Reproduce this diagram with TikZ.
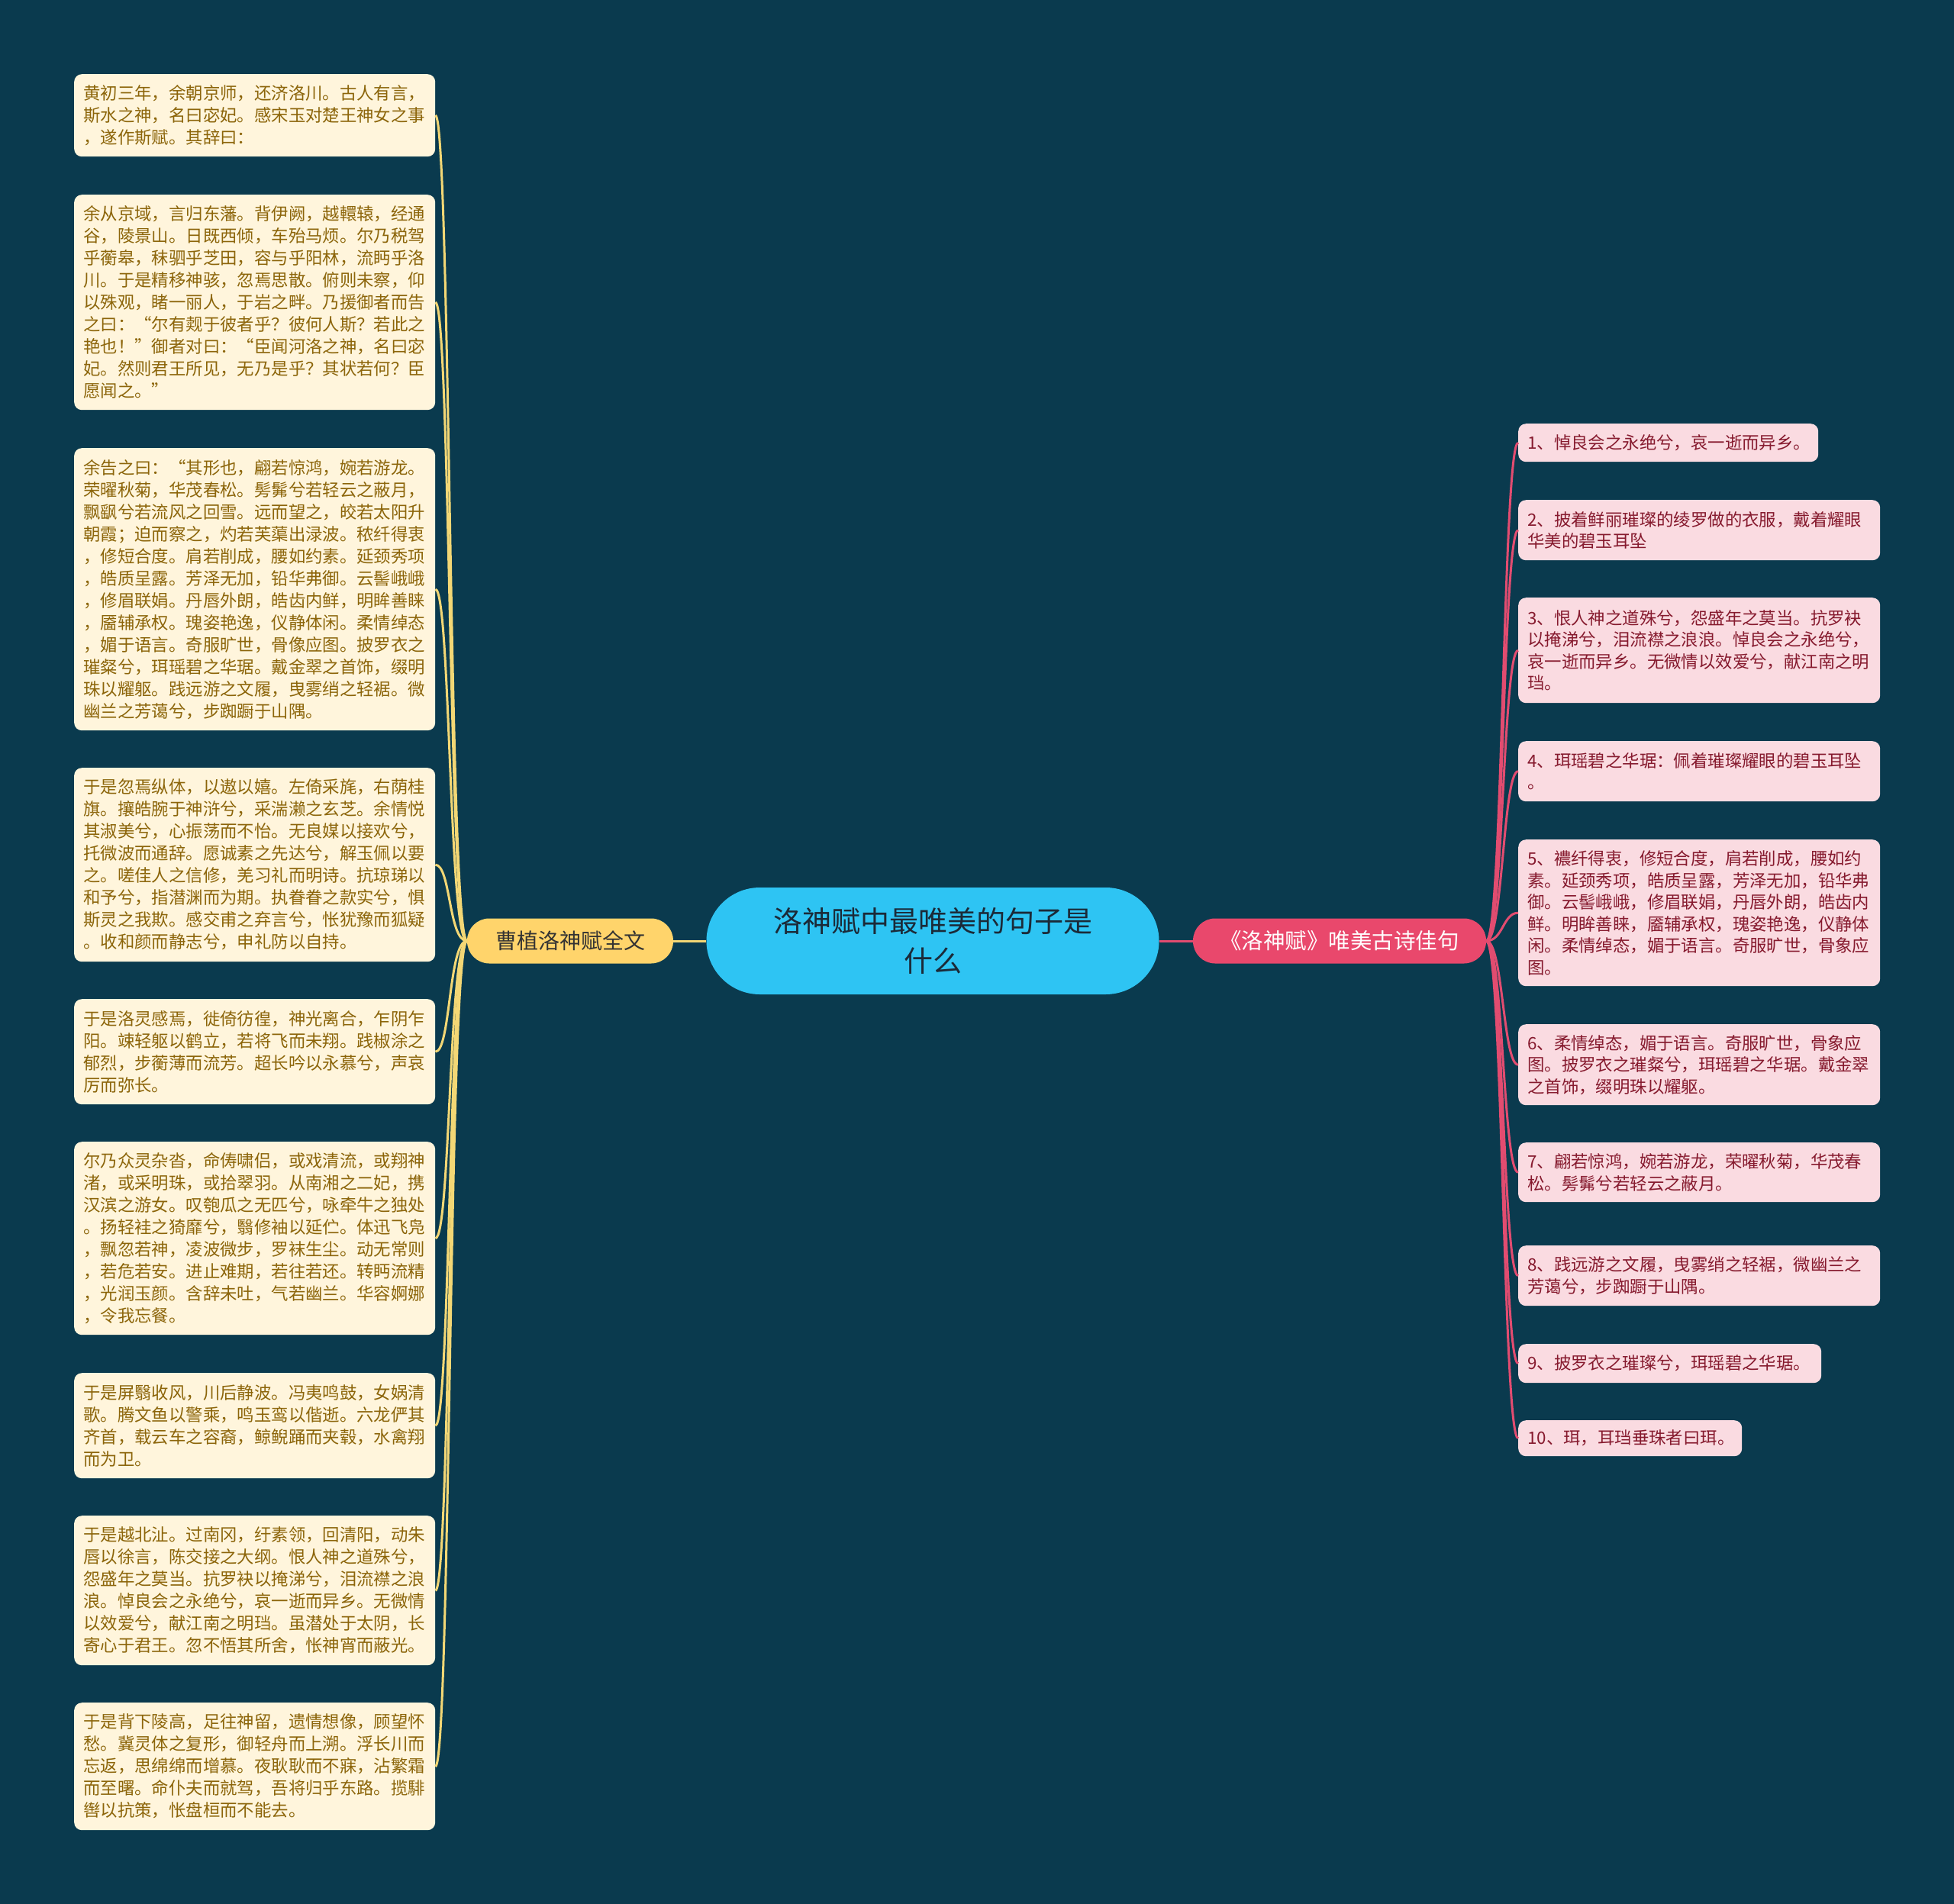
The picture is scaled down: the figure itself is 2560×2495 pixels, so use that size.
\documentclass[tikz,border=0pt]{standalone}
\usepackage{fontspec}
\setmainfont{Noto Sans CJK SC}
\definecolor{bg}{HTML}{0A3A4E}
\definecolor{lfill}{HTML}{FFF5DC}
\definecolor{ltext}{HTML}{8C650A}
\definecolor{lline}{HTML}{F3D775}
\definecolor{lbfill}{HTML}{FFD46B}
\definecolor{rfill}{HTML}{FADBE1}
\definecolor{rtext}{HTML}{861A2E}
\definecolor{rline}{HTML}{E24C70}
\definecolor{rbfill}{HTML}{E9486C}
\definecolor{cfill}{HTML}{2EC4F3}
\definecolor{ctext}{HTML}{1B2A38}
\tikzset{
  lbox/.style={fill=lfill, rounded corners=10pt, anchor=north west, align=left, text=ltext,
    inner xsep=12pt, inner ysep=4pt, font=\fontsize{22.4}{29}\selectfont, text width=449pt},
  rbox/.style={fill=rfill, rounded corners=10pt, anchor=north west, align=left, text=rtext,
    inner xsep=12pt, inner ysep=4pt, font=\fontsize{22.4}{28.5}\selectfont, text width=450pt},
  lconn/.style={draw=lline, line width=3pt},
  rconn/.style={draw=rline, line width=3pt},
}
\begin{document}
\begin{tikzpicture}[x=1pt,y=-1pt]
\useasboundingbox (0,0) rectangle (2560,2495);
\fill[bg] (0,0) rectangle (2560,2495);

% center
\node[fill=cfill, rounded corners=70pt, minimum width=593pt, minimum height=140pt, align=center,
  text=ctext, font=\fontsize{38}{52}\selectfont, inner sep=0pt] (c) at (1222,1233)
  {洛神赋中最唯美的句子是\\什么};

% branches
\node[fill=lbfill, rounded corners=29pt, minimum width=270pt, minimum height=59pt, inner sep=0pt,
  text=black!80, font=\fontsize{28}{34}\selectfont] (lb) at (747,1233) {曹植洛神赋全文};
\node[fill=rbfill, rounded corners=29pt, minimum width=384pt, minimum height=59pt, inner sep=0pt,
  text=white, font=\fontsize{28.5}{34}\selectfont] (rb) at (1755,1233) {《洛神赋》唯美古诗佳句};

% left boxes
\node[lbox, minimum height=108pt] (l1) at (97,97) {黄初三年，余朝京师，还济洛川。古人有言，\\
斯水之神，名曰宓妃。感宋玉对楚王神女之事\\
，遂作斯赋。其辞曰：};

\node[lbox, minimum height=282pt] (l2) at (97,255) {余从京域，言归东藩。背伊阙，越轘辕，经通\\
谷，陵景山。日既西倾，车殆马烦。尔乃税驾\\
乎蘅皋，秣驷乎芝田，容与乎阳林，流眄乎洛\\
川。于是精移神骇，忽焉思散。俯则未察，仰\\
以殊观，睹一丽人，于岩之畔。乃援御者而告\\
之曰：“尔有觌于彼者乎？彼何人斯？若此之\\
艳也！”御者对曰：“臣闻河洛之神，名曰宓\\
妃。然则君王所见，无乃是乎？其状若何？臣\\
愿闻之。”};

\node[lbox, minimum height=370pt] (l3) at (97,587) {余告之曰：“其形也，翩若惊鸿，婉若游龙。\\
荣曜秋菊，华茂春松。髣髴兮若轻云之蔽月，\\
飘飖兮若流风之回雪。远而望之，皎若太阳升\\
朝霞；迫而察之，灼若芙蕖出渌波。秾纤得衷\\
，修短合度。肩若削成，腰如约素。延颈秀项\\
，皓质呈露。芳泽无加，铅华弗御。云髻峨峨\\
，修眉联娟。丹唇外朗，皓齿内鲜，明眸善睐\\
，靥辅承权。瑰姿艳逸，仪静体闲。柔情绰态\\
，媚于语言。奇服旷世，骨像应图。披罗衣之\\
璀粲兮，珥瑶碧之华琚。戴金翠之首饰，缀明\\
珠以耀躯。践远游之文履，曳雾绡之轻裾。微\\
幽兰之芳蔼兮，步踟蹰于山隅。};

\node[lbox, minimum height=254pt] (l4) at (97,1006) {于是忽焉纵体，以遨以嬉。左倚采旄，右荫桂\\
旗。攘皓腕于神浒兮，采湍濑之玄芝。余情悦\\
其淑美兮，心振荡而不怡。无良媒以接欢兮，\\
托微波而通辞。愿诚素之先达兮，解玉佩以要\\
之。嗟佳人之信修，羌习礼而明诗。抗琼珶以\\
和予兮，指潜渊而为期。执眷眷之款实兮，惧\\
斯灵之我欺。感交甫之弃言兮，怅犹豫而狐疑\\
。收和颜而静志兮，申礼防以自持。};

\node[lbox, minimum height=138pt] (l5) at (97,1309) {于是洛灵感焉，徙倚彷徨，神光离合，乍阴乍\\
阳。竦轻躯以鹤立，若将飞而未翔。践椒涂之\\
郁烈，步蘅薄而流芳。超长吟以永慕兮，声哀\\
厉而弥长。};

\node[lbox, minimum height=253pt] (l6) at (97,1496) {尔乃众灵杂沓，命俦啸侣，或戏清流，或翔神\\
渚，或采明珠，或拾翠羽。从南湘之二妃，携\\
汉滨之游女。叹匏瓜之无匹兮，咏牵牛之独处\\
。扬轻袿之猗靡兮，翳修袖以延伫。体迅飞凫\\
，飘忽若神，凌波微步，罗袜生尘。动无常则\\
，若危若安。进止难期，若往若还。转眄流精\\
，光润玉颜。含辞未吐，气若幽兰。华容婀娜\\
，令我忘餐。};

\node[lbox, minimum height=138pt] (l7) at (97,1799) {于是屏翳收风，川后静波。冯夷鸣鼓，女娲清\\
歌。腾文鱼以警乘，鸣玉鸾以偕逝。六龙俨其\\
齐首，载云车之容裔，鲸鲵踊而夹毂，水禽翔\\
而为卫。};

\node[lbox, minimum height=196pt] (l8) at (97,1986) {于是越北沚。过南冈，纡素领，回清阳，动朱\\
唇以徐言，陈交接之大纲。恨人神之道殊兮，\\
怨盛年之莫当。抗罗袂以掩涕兮，泪流襟之浪\\
浪。悼良会之永绝兮，哀一逝而异乡。无微情\\
以效爱兮，献江南之明珰。虽潜处于太阴，长\\
寄心于君王。忽不悟其所舍，怅神宵而蔽光。};

\node[lbox, minimum height=167pt] (l9) at (97,2231) {于是背下陵高，足往神留，遗情想像，顾望怀\\
愁。冀灵体之复形，御轻舟而上溯。浮长川而\\
忘返，思绵绵而增慕。夜耿耿而不寐，沾繁霜\\
而至曙。命仆夫而就驾，吾将归乎东路。揽騑\\
辔以抗策，怅盘桓而不能去。};

% right boxes
\node[rbox, text width=369pt, minimum height=50pt] (r1) at (1989,555) {1、悼良会之永绝兮，哀一逝而异乡。};
\node[rbox, minimum height=79pt] (r2) at (1989,655) {2、披着鲜丽璀璨的绫罗做的衣服，戴着耀眼\\
华美的碧玉耳坠};
\node[rbox, minimum height=138pt] (r3) at (1989,783) {3、恨人神之道殊兮，怨盛年之莫当。抗罗袂\\
以掩涕兮，泪流襟之浪浪。悼良会之永绝兮，\\
哀一逝而异乡。无微情以效爱兮，献江南之明\\
珰。};
\node[rbox, minimum height=79pt] (r4) at (1989,971) {4、珥瑶碧之华琚：佩着璀璨耀眼的碧玉耳坠\\
。};
\node[rbox, minimum height=192pt] (r5) at (1989,1100) {5、襛纤得衷，修短合度，肩若削成，腰如约\\
素。延颈秀项，皓质呈露，芳泽无加，铅华弗\\
御。云髻峨峨，修眉联娟，丹唇外朗，皓齿内\\
鲜。明眸善睐，靥辅承权，瑰姿艳逸，仪静体\\
闲。柔情绰态，媚于语言。奇服旷世，骨象应\\
图。};
\node[rbox, minimum height=106pt] (r6) at (1989,1342) {6、柔情绰态，媚于语言。奇服旷世，骨象应\\
图。披罗衣之璀粲兮，珥瑶碧之华琚。戴金翠\\
之首饰，缀明珠以耀躯。};
\node[rbox, minimum height=78pt] (r7) at (1989,1497) {7、翩若惊鸿，婉若游龙，荣曜秋菊，华茂春\\
松。髣髴兮若轻云之蔽月。};
\node[rbox, minimum height=79pt] (r8) at (1989,1632) {8、践远游之文履，曳雾绡之轻裾，微幽兰之\\
芳蔼兮，步踟蹰于山隅。};
\node[rbox, text width=373pt, minimum height=51pt] (r9) at (1989,1761) {9、披罗衣之璀璨兮，珥瑶碧之华琚。};
\node[rbox, text width=269pt, minimum height=47pt] (r10) at (1989,1861) {10、珥，耳珰垂珠者曰珥。};

% connectors
\draw[lconn] (c.west) -- (lb.east);
\draw[rconn] (c.east) -- (rb.west);
\foreach \n in {l1,l2,l3,l4,l5,l6,l7,l8,l9}
  \draw[lconn] (lb.west) .. controls +(-24,0) and +(20,0) .. (\n.east);
\foreach \n in {r1,r2,r3,r4,r5,r6,r7,r8,r9,r10}
  \draw[rconn] (rb.east) .. controls +(22,0) and +(-20,0) .. (\n.west);
\end{tikzpicture}
\end{document}
